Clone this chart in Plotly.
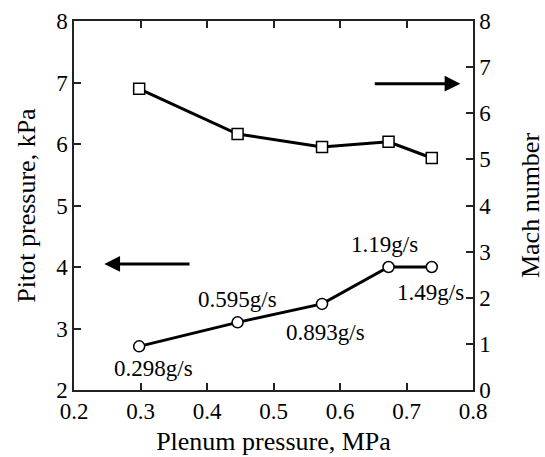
import plotly.graph_objects as go

plenum = [0.298, 0.446, 0.573, 0.673, 0.738]
pitot = [2.71, 3.10, 3.40, 4.0, 4.0]
mach = [6.53, 5.55, 5.27, 5.38, 5.03]
flow_labels = ["0.298g/s", "0.595g/s", "0.893g/s", "1.19g/s", "1.49g/s"]
label_shift = [(14, -22), (0, 23), (3, -29), (-4, 23), (-1, -25)]

FONT = "'Liberation Serif', 'Times New Roman', Times, 'DejaVu Serif', serif"

fig = go.Figure()
fig.add_trace(go.Scatter(
    x=plenum, y=mach, yaxis="y2", mode="lines+markers",
    line=dict(color="black", width=3),
    marker=dict(symbol="square", size=11, color="white", line=dict(color="black", width=1.5)),
    showlegend=False))
fig.add_trace(go.Scatter(
    x=plenum, y=pitot, mode="lines+markers",
    line=dict(color="black", width=3),
    marker=dict(symbol="circle", size=11, color="white", line=dict(color="black", width=1.5)),
    showlegend=False))

annotations = []
for xv, yv, t, (dx, dy) in zip(plenum, pitot, flow_labels, label_shift):
    annotations.append(dict(x=xv, y=yv, xref="x", yref="y", text=t, showarrow=False,
                            xshift=dx, yshift=dy, font=dict(family=FONT, size=23, color="black")))

# direction arrows
annotations.append(dict(x=0.2456, y=4.05, ax=0.376, ay=4.05, xref="x", yref="y", axref="x", ayref="y",
                        text="", showarrow=True, arrowhead=2, arrowsize=1.05, arrowwidth=3, arrowcolor="black"))
annotations.append(dict(x=0.781, y=6.98, ax=0.650, ay=6.98, xref="x", yref="y", axref="x", ayref="y",
                        text="", showarrow=True, arrowhead=2, arrowsize=1.05, arrowwidth=3, arrowcolor="black"))

axis_common = dict(showgrid=False, zeroline=False, ticks="inside", ticklen=7, tickwidth=1.5,
                   tickcolor="#222", linecolor="#222", linewidth=1.5, automargin=False,
                   tickfont=dict(family=FONT, size=23, color="black"))

TITLE_FONT = dict(family=FONT, size=26, color="black")

fig.update_layout(
    width=545, height=457,
    margin=dict(l=74, r=72, t=21, b=67, autoexpand=False),
    paper_bgcolor="white", plot_bgcolor="white",
    xaxis=dict(range=[0.2, 0.8], dtick=0.1, tickformat=".1f", showline=True, mirror="ticks",
               title=dict(text="Plenum pressure, MPa", font=TITLE_FONT, standoff=8),
               **axis_common),
    yaxis=dict(range=[2, 8], dtick=1, showline=True,
               title=dict(text="Pitot pressure, kPa", font=TITLE_FONT, standoff=13),
               **axis_common),
    yaxis2=dict(range=[0, 8], dtick=1, overlaying="y", side="right", showline=True,
                title=dict(text="Mach number", font=TITLE_FONT, standoff=30),
                **axis_common),
    annotations=annotations,
)

fig.write_html("out.html")
